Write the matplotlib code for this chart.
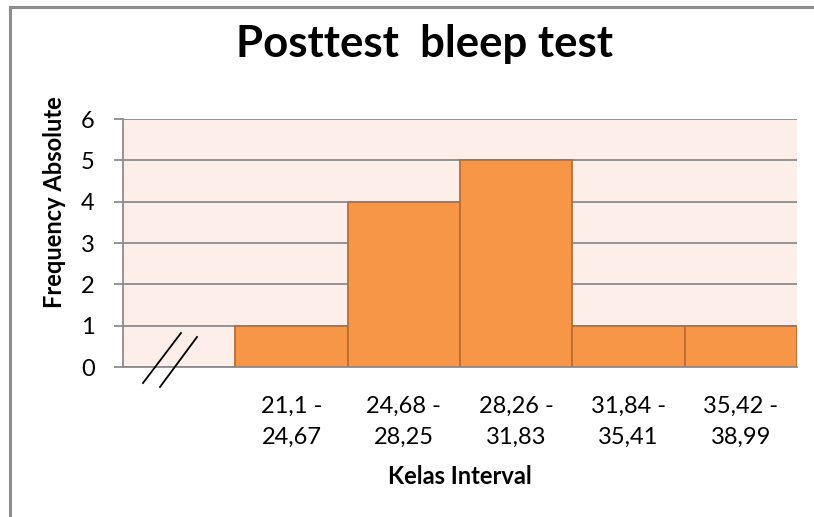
import matplotlib
matplotlib.use("Agg")
import matplotlib.pyplot as plt
from matplotlib.lines import Line2D

# data
kelas = ["", "21,1 -\n24,67", "24,68 -\n28,25", "28,26 -\n31,83", "31,84 -\n35,41", "35,42 -\n38,99"]
frekuensi = [None, 1, 4, 5, 1, 1]
yticks = [0, 1, 2, 3, 4, 5, 6]

plt.rcParams['font.family'] = ['Lato', 'DejaVu Sans']

fig = plt.figure(figsize=(8.14, 5.17), dpi=100)
fig.patch.set_facecolor('white')

# chart border (only left and top visible)
bx, by = 10/814, 1 - 7/517
fig.add_artist(Line2D([bx, bx], [0, by], transform=fig.transFigure, color='#8c8c8c', linewidth=2.2))
fig.add_artist(Line2D([bx, 1], [by, by], transform=fig.transFigure, color='#8c8c8c', linewidth=2.2))

ax = fig.add_axes([123/814, 1 - 367/517, 674/814, 248/517])
ax.set_facecolor('#fdeee9')

xs = [i for i, f in enumerate(frekuensi) if f is not None]
hs = [f for f in frekuensi if f is not None]
ax.bar(xs, hs, width=1.0, color='#f79646', edgecolor='#b86f35', linewidth=1.3, zorder=3)

ax.set_xlim(-0.5, len(kelas) - 0.5)
ax.set_ylim(0, 6)
ax.set_yticks(yticks)
ax.set_xticks(range(len(kelas)))
ax.set_xticklabels(kelas, fontsize=17, linespacing=1.55)
ax.tick_params(axis='x', length=0, pad=21)
ax.tick_params(axis='y', length=6.5, width=1.3, color='#8c8c8c', labelsize=17, pad=14)
ax.yaxis.grid(True, color='#8c8c8c', linewidth=1.3, zorder=1)
ax.set_axisbelow(True)
for s in ['top', 'right']:
    ax.spines[s].set_visible(False)
for s in ['left', 'bottom']:
    ax.spines[s].set_color('#8c8c8c')
    ax.spines[s].set_linewidth(1.3)
    ax.spines[s].set_zorder(4)

# axis break marks
for x0, y0, x1, y1 in [(0.0297, -0.0645, 0.086, 0.137), (0.0549, -0.0806, 0.1098, 0.121)]:
    ax.add_line(Line2D([x0, x1], [y0, y1], transform=ax.transAxes, color='black',
                       linewidth=1.3, clip_on=False, zorder=5))

fig.text(424/814, 1 - 44/517, "Posttest  bleep test", fontsize=31.5, fontweight='bold',
         ha='center', va='center')
fig.text(55/814, 1 - 202/517, "Frequency Absolute", fontsize=17, fontweight='bold',
         rotation=90, ha='center', va='center')
fig.text(460/814, 1 - 476/517, "Kelas Interval", fontsize=17, fontweight='bold',
         ha='center', va='center')

fig.savefig("out.png", dpi=100)
